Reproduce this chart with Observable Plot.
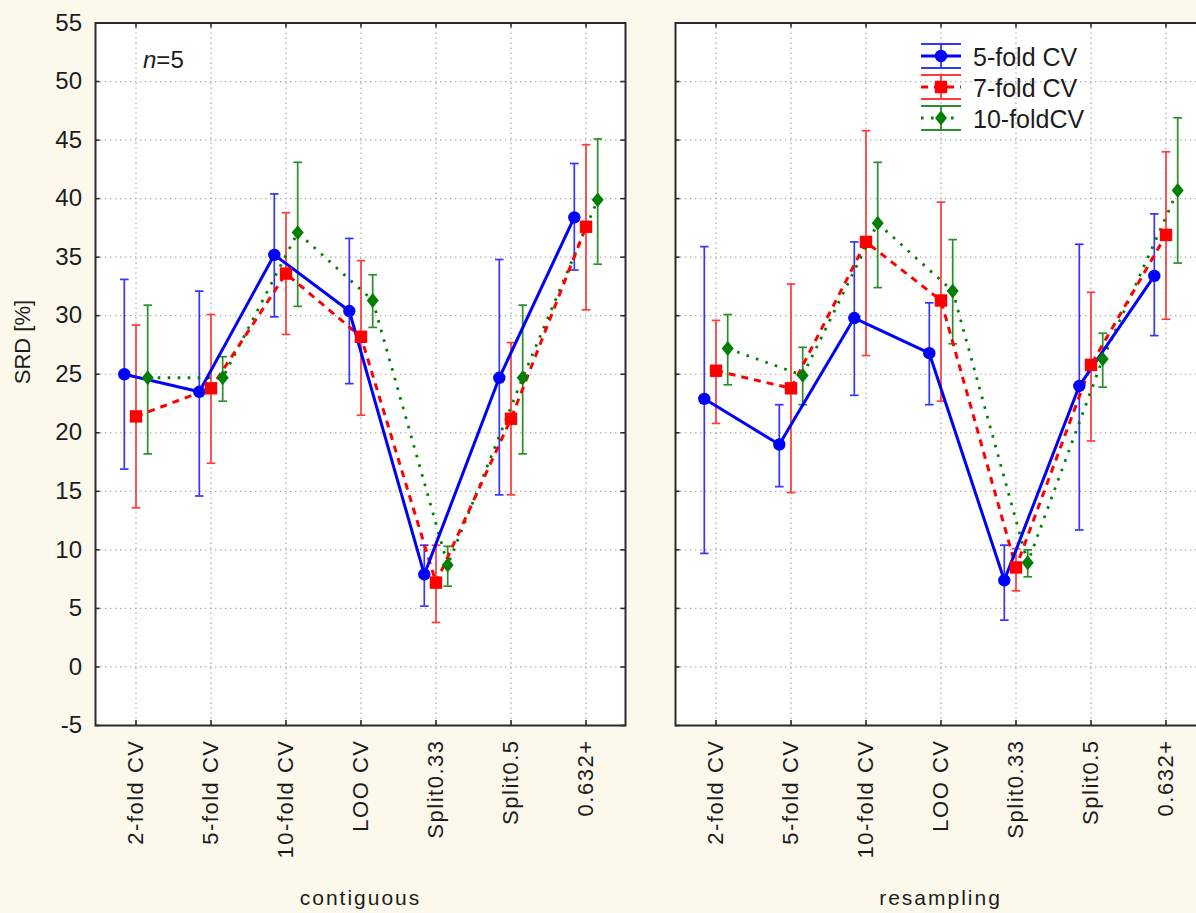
<!DOCTYPE html>
<html><head><meta charset="utf-8">
<script src="https://cdn.jsdelivr.net/npm/d3@7"></script>
<script src="https://cdn.jsdelivr.net/npm/@observablehq/plot@0.6"></script>
<style>
html,body{margin:0;padding:0;background:#fdf8ec;overflow:hidden;width:1196px;height:913px;}
#wrap{position:relative;width:1196px;height:913px;overflow:hidden;}
#wrap svg.overlay{position:absolute;left:0;top:0;pointer-events:none;}
g[aria-label="x-axis tick label"] text{letter-spacing:1.5px;}
g[aria-label="fx-axis tick label"] text{letter-spacing:2px;}
</style></head><body><div id="wrap"></div>
<script>
const categories = ["2-fold CV","5-fold CV","10-fold CV","LOO CV","Split0.33","Split0.5","0.632+"];
const panels = ["contiguous","resampling"];
const seriesNames = ["5-fold CV","7-fold CV","10-foldCV"];
const yTicks = [-5,0,5,10,15,20,25,30,35,40,45,50,55];

// contiguous panel
const contMean5  = [25.0, 23.5, 35.2, 30.4, 7.9, 24.7, 38.4];
const contHi5    = [33.1, 32.1, 40.4, 36.6, 10.4, 34.8, 43.0];
const contLo5    = [16.9, 14.6, 29.9, 24.2, 5.2, 14.7, 33.9];
const contMean7  = [21.4, 23.8, 33.6, 28.2, 7.2, 21.2, 37.6];
const contHi7    = [29.2, 30.1, 38.8, 34.7, 10.4, 27.7, 44.6];
const contLo7    = [13.6, 17.4, 28.4, 21.5, 3.8, 14.7, 30.5];
const contMean10 = [24.7, 24.7, 37.1, 31.3, 8.7, 24.7, 39.9];
const contHi10   = [30.9, 26.5, 43.1, 33.5, 10.3, 30.9, 45.1];
const contLo10   = [18.2, 22.7, 30.8, 29.0, 6.9, 18.2, 34.4];
// resampling panel
const resMean5  = [22.9, 19.0, 29.8, 26.8, 7.4, 24.0, 33.4];
const resHi5    = [35.9, 22.4, 36.3, 31.1, 10.4, 36.1, 38.7];
const resLo5    = [9.7, 15.4, 23.2, 22.4, 4.0, 11.7, 28.3];
const resMean7  = [25.3, 23.8, 36.3, 31.3, 8.5, 25.8, 36.9];
const resHi7    = [29.6, 32.7, 45.8, 39.7, 10.1, 32.0, 44.0];
const resLo7    = [20.8, 14.9, 26.6, 22.7, 6.5, 19.3, 29.7];
const resMean10 = [27.2, 24.9, 37.9, 32.1, 8.9, 26.3, 40.7];
const resHi10   = [30.1, 27.3, 43.1, 36.5, 10.0, 28.5, 46.9];
const resLo10   = [24.1, 22.4, 32.4, 27.6, 7.7, 23.9, 34.5];

const source = {
  contiguous: {"5-fold CV":[contMean5,contLo5,contHi5], "7-fold CV":[contMean7,contLo7,contHi7], "10-foldCV":[contMean10,contLo10,contHi10]},
  resampling: {"5-fold CV":[resMean5,resLo5,resHi5], "7-fold CV":[resMean7,resLo7,resHi7], "10-foldCV":[resMean10,resLo10,resHi10]}
};
const rows = [];
for (const p of panels) for (const s of seriesNames) {
  const [m, lo, hi] = source[p][s];
  categories.forEach((c, i) => rows.push({panel: p, series: s, cat: c, mean: m[i], lo: lo[i], hi: hi[i]}));
}

// styles
const squareSym = {draw(ctx){ const h = 6.2; ctx.rect(-h, -h, 2*h, 2*h); }};
const diamondSym = {draw(ctx){ ctx.moveTo(0,-7.4); ctx.lineTo(6,0); ctx.lineTo(0,7.4); ctx.lineTo(-6,0); ctx.closePath(); }};
const circleSym = {draw(ctx){ ctx.moveTo(6.2,0); ctx.arc(0,0,6.2,0,2*Math.PI); }};
const capSym = {draw(ctx){ ctx.moveTo(-4.3,0); ctx.lineTo(4.3,0); }};
const styles = {
  "5-fold CV": {line:"#0000ff", bar:"#3535ff", dx:-11.7, dash:null, width:3, sym:circleSym},
  "7-fold CV": {line:"#ff0000", bar:"#ff3a3a", dx:0, dash:"7,6", width:3, sym:squareSym},
  "10-foldCV": {line:"#008000", bar:"#2a8f2a", dx:11.7, dash:"2.6,7.4", width:2.8, sym:diamondSym}
};

const W = 1210, H = 913, mL = 94.5, mR = 5, mT = 22.5, mB = 188;
const pInner = 0.0857;
const bw = (W - mL - mR) / (2 - pInner) * (1 - pInner);
const ph = H - mT - mB;
const frameColor = "#2a2a2a";
const gridStyle = {stroke:"#a9a9a9", strokeOpacity:1, strokeWidth:1.2, strokeDasharray:"1.4,3.6"};

const marks = [
  Plot.frame({fill:"white", stroke:null}),
  Plot.gridY({ticks: yTicks, ...gridStyle}),
  Plot.gridX({...gridStyle}),
  Plot.ruleY(yTicks, {insetRight: bw - 5, stroke: frameColor, strokeWidth: 1.6}),
  Plot.ruleY(yTicks, {insetLeft: bw - 5, stroke: frameColor, strokeWidth: 1.6}),
  Plot.ruleX(categories, {insetBottom: ph - 5, stroke: frameColor, strokeWidth: 1.6}),
  Plot.ruleX(categories, {insetTop: ph - 5, stroke: frameColor, strokeWidth: 1.6}),
  Plot.axisY({ticks: yTicks, tickFormat: d => String(d), tickSize: 0, tickPadding: 13.5, fontSize: 24, label: null}),
  Plot.axisX({tickRotate: -90, tickSize: 0, tickPadding: 14, fontSize: 22, label: null}),
  Plot.axisFx({anchor: "bottom", tickSize: 0, tickPadding: 165, fontSize: 21, label: null}),
  Plot.text([{p: "contiguous"}], {fx: "p", text: () => "SRD [%]", frameAnchor: "left", dx: -72.5, dy: 10, rotate: -90, fontSize: 22})
];
for (const s of seriesNames) {
  const st = styles[s];
  const d = rows.filter(r => r.series === s);
  marks.push(
    Plot.ruleX(d, {fx: "panel", x: "cat", y1: "lo", y2: "hi", dx: st.dx, stroke: st.bar, strokeWidth: 1.7}),
    Plot.dot(d, {fx: "panel", x: "cat", y: "lo", dx: st.dx, symbol: capSym, stroke: st.bar, strokeWidth: 1.7, fill: "none"}),
    Plot.dot(d, {fx: "panel", x: "cat", y: "hi", dx: st.dx, symbol: capSym, stroke: st.bar, strokeWidth: 1.7, fill: "none"})
  );
}
for (const s of ["10-foldCV", "7-fold CV", "5-fold CV"]) {
  const st = styles[s];
  const d = rows.filter(r => r.series === s);
  marks.push(Plot.line(d, {fx: "panel", x: "cat", y: "mean", z: "panel", dx: st.dx, stroke: st.line, strokeWidth: st.width, strokeDasharray: st.dash, strokeLinecap: "butt", curve: "linear"}));
}
for (const s of seriesNames) {
  const st = styles[s];
  const d = rows.filter(r => r.series === s);
  marks.push(Plot.dot(d, {fx: "panel", x: "cat", y: "mean", dx: st.dx, symbol: st.sym, fill: st.line, stroke: null}));
}
marks.push(Plot.frame({stroke: frameColor, strokeWidth: 2}));

const chart = Plot.plot({
  width: W, height: H,
  marginLeft: mL, marginRight: mR, marginTop: mT, marginBottom: mB,
  style: {background: "transparent", fontFamily: "'Liberation Sans', Arial, sans-serif", color: "#1c1c1c", maxWidth: "none"},
  fx: {domain: panels, paddingInner: pInner, paddingOuter: 0},
  x: {type: "point", domain: categories, padding: 0.5},
  y: {domain: [-5, 55]},
  marks
});
document.getElementById("wrap").appendChild(chart);

// overlay: legend and annotation
const ov = d3.select("#wrap").append("svg").attr("class", "overlay")
  .attr("width", 1196).attr("height", 913)
  .style("font-family", "'Liberation Sans', Arial, sans-serif");
const nt = ov.append("text").attr("x", 143).attr("y", 68).attr("font-size", 24).attr("fill", "#1c1c1c");
nt.append("tspan").attr("font-style", "italic").text("n");
nt.append("tspan").text("=5");

const lgX0 = 921, lgX1 = 961, lgXc = 941, lgTop = 56, lgStep = 31, capH = 12;
seriesNames.forEach((s, i) => {
  const st = styles[s];
  const cy = lgTop + i * lgStep;
  const g = ov.append("g");
  g.append("line").attr("x1", lgX0).attr("x2", lgX1).attr("y1", cy - capH).attr("y2", cy - capH).attr("stroke", st.bar).attr("stroke-width", 1.8);
  g.append("line").attr("x1", lgX0).attr("x2", lgX1).attr("y1", cy + capH).attr("y2", cy + capH).attr("stroke", st.bar).attr("stroke-width", 1.8);
  g.append("line").attr("x1", lgXc).attr("x2", lgXc).attr("y1", cy - capH).attr("y2", cy + capH).attr("stroke", st.bar).attr("stroke-width", 1.8);
  g.append("line").attr("x1", lgX0).attr("x2", lgX1).attr("y1", cy).attr("y2", cy).attr("stroke", st.line).attr("stroke-width", st.width).attr("stroke-dasharray", st.dash);
  g.append("path").attr("d", d3.symbol(st.sym)()).attr("transform", `translate(${lgXc},${cy})`).attr("fill", st.line);
  g.append("text").attr("x", 973).attr("y", cy + 9.5).attr("font-size", 25).attr("fill", "#1c1c1c").text(s);
});
</script></body></html>
